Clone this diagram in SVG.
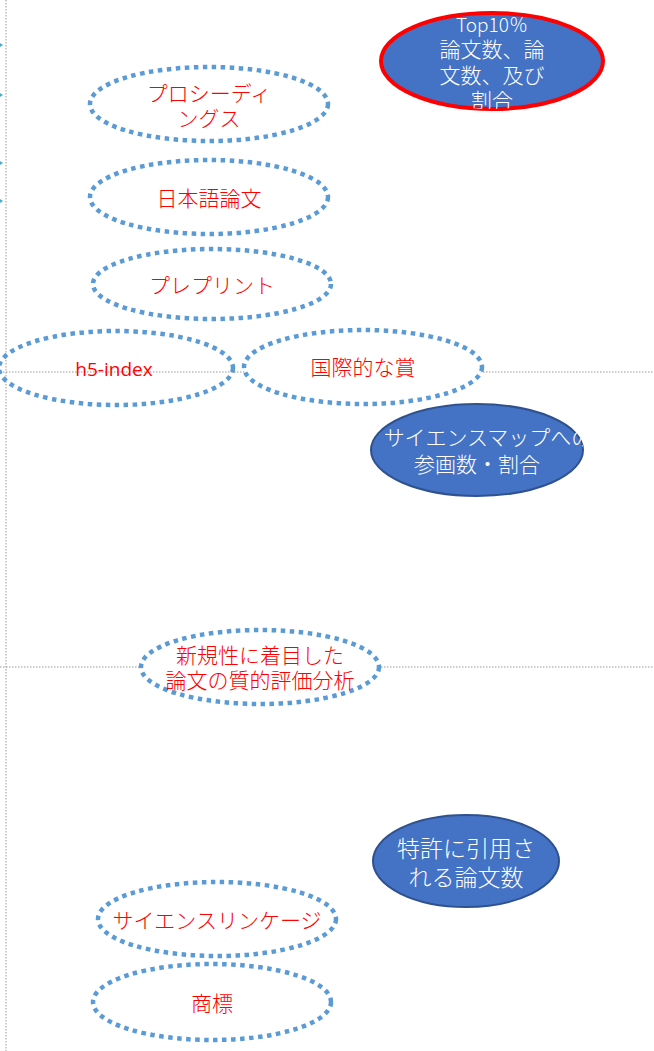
<svg xmlns="http://www.w3.org/2000/svg" width="654" height="1051" viewBox="0 0 654 1051">
<style>
.dot{fill:none;stroke:#5B9BD5;stroke-width:4.5;stroke-dasharray:4.5 4.5}
.dotw{fill:#fff;stroke:#5B9BD5;stroke-width:4.5;stroke-dasharray:4.5 4.5}
.blue{fill:#4472C4;stroke:#2F528F;stroke-width:2}
.grid{fill:none;stroke:#999;stroke-width:1;stroke-dasharray:1.5 1.5}
.rt{font-family:"Noto Sans CJK JP","Liberation Sans",sans-serif;font-size:21px;font-weight:300;fill:#FF0000;text-anchor:middle;dominant-baseline:central}
.wt{font-family:"Noto Sans CJK JP","Liberation Sans",sans-serif;font-size:21px;font-weight:300;fill:#fff;text-anchor:middle;dominant-baseline:central}
.tip{fill:#4BACC6}
</style>
<defs>
<clipPath id="cTop"><ellipse cx="492" cy="61" rx="111" ry="48"/></clipPath>
<clipPath id="cMap"><rect x="371" y="400" width="212" height="100"/></clipPath>
</defs>
<g id="connectors">
<line class="grid" x1="6" y1="0" x2="6" y2="1051"/>
<line class="grid" x1="0" y1="372" x2="654" y2="372"/>
<line class="grid" x1="0" y1="667" x2="654" y2="667"/>
<polygon class="tip" points="0,43 3,45 0,47"/>
<polygon class="tip" points="0,93 3,95 0,97"/>
<polygon class="tip" points="0,161 3,163 0,165"/>
<polygon class="tip" points="0,199 3,201 0,203"/>
</g>
<g id="top10">
<ellipse cx="492" cy="61" rx="111" ry="48" fill="#4472C4" stroke="#FF0000" stroke-width="4"/>
<g clip-path="url(#cTop)">
<text class="wt" x="492" y="23" style="font-size:19px">Top10％</text>
<text class="wt" x="492" y="48">論文数、論</text>
<text class="wt" x="492" y="74">文数、及び</text>
<text class="wt" x="492" y="99">割合</text>
</g>
</g>
<g id="proceedings">
<ellipse class="dot" cx="209" cy="104" rx="119" ry="37"/>
<text class="rt" x="209" y="92">プロシーディ</text>
<text class="rt" x="209" y="117">ングス</text>
</g>
<g id="japanese">
<ellipse class="dot" cx="209" cy="197" rx="119" ry="37"/>
<text class="rt" x="209" y="197">日本語論文</text>
</g>
<g id="preprint">
<ellipse class="dot" cx="212" cy="284" rx="119" ry="35"/>
<text class="rt" x="212" y="284">プレプリント</text>
</g>
<g id="h5index">
<ellipse class="dot" cx="116" cy="368" rx="117" ry="37"/>
<text class="rt" x="114" y="369" style="font-family:'Open Sans','Liberation Sans',sans-serif;font-size:19px;font-weight:400">h5-index</text>
</g>
<g id="award">
<ellipse class="dotw" cx="363" cy="367" rx="119" ry="37"/>
<text class="rt" x="363" y="366">国際的な賞</text>
</g>
<g id="sciencemap">
<ellipse class="blue" cx="477" cy="450" rx="106" ry="46"/>
<g clip-path="url(#cMap)">
<text class="wt" x="488" y="436">サイエンスマップへの</text>
<text class="wt" x="477" y="463">参画数・割合</text>
</g>
</g>
<g id="novelty">
<ellipse class="dotw" cx="260" cy="667" rx="119" ry="37"/>
<text class="rt" x="260" y="654">新規性に着目した</text>
<text class="rt" x="260" y="679">論文の質的評価分析</text>
</g>
<g id="patent">
<ellipse class="blue" cx="466" cy="861" rx="93" ry="46"/>
<text class="wt" x="466" y="847" style="font-size:23px">特許に引用さ</text>
<text class="wt" x="466" y="876" style="font-size:23px">れる論文数</text>
</g>
<g id="linkage">
<ellipse class="dot" cx="217" cy="919" rx="119" ry="37"/>
<text class="rt" x="217" y="919">サイエンスリンケージ</text>
</g>
<g id="trademark">
<ellipse class="dot" cx="212" cy="1002" rx="119" ry="38"/>
<text class="rt" x="212" y="1002">商標</text>
</g>
</svg>
